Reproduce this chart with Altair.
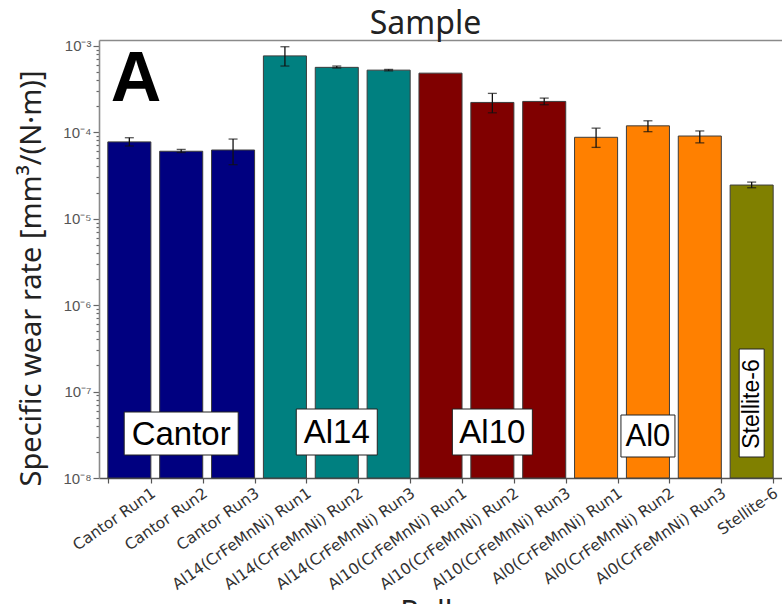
import altair as alt
import pandas as pd

# Specific wear rate per sample run (mm^3 / (N*m)), with error-bar bounds
samples = [
    "Cantor Run1", "Cantor Run2", "Cantor Run3",
    "Al14(CrFeMnNi) Run1", "Al14(CrFeMnNi) Run2", "Al14(CrFeMnNi) Run3",
    "Al10(CrFeMnNi) Run1", "Al10(CrFeMnNi) Run2", "Al10(CrFeMnNi) Run3",
    "Al0(CrFeMnNi) Run1", "Al0(CrFeMnNi) Run2", "Al0(CrFeMnNi) Run3",
    "Stellite-6",
]
groups = ["Cantor"] * 3 + ["Al14"] * 3 + ["Al10"] * 3 + ["Al0"] * 3 + ["Stellite-6"]
wear_rate = [7.7e-5, 6.0e-5, 6.2e-5,
             7.6e-4, 5.6e-4, 5.2e-4,
             4.8e-4, 2.2e-4, 2.26e-4,
             8.7e-5, 1.18e-4, 9.0e-5,
             2.44e-5]
err_low = [6.9e-5, 5.8e-5, 4.2e-5,
           5.8e-4, 5.5e-4, 5.1e-4,
           None, 1.67e-4, 2.07e-4,
           6.65e-5, 1.01e-4, 7.5e-5,
           2.27e-5]
err_high = [8.6e-5, 6.3e-5, 8.3e-5,
            9.7e-4, 5.8e-4, 5.3e-4,
            None, 2.8e-4, 2.47e-4,
            1.11e-4, 1.35e-4, 1.03e-4,
            2.64e-5]

group_names = ["Cantor", "Al14", "Al10", "Al0", "Stellite-6"]
group_colors = ["#000080", "#008080", "#800000", "#ff8000", "#808000"]

y_ticks = [1e-8, 1e-7, 1e-6, 1e-5, 1e-4, 1e-3]
y_tick_labels = ["10⁻⁸", "10⁻⁷", "10⁻⁶", "10⁻⁵", "10⁻⁴", "10⁻³"]
y_title = "Specific wear rate [mm³/(N·m)]"

df = pd.DataFrame({
    "sample": samples, "group": groups, "rate": wear_rate,
    "lo": err_low, "hi": err_high,
})

W, H = 683, 438
FONT = "Liberation Sans"
TICK_FONT = "DejaVu Sans"
TITLE_FONT = "Noto Sans"

# minor log ticks between the labelled decades
minor_ticks = [m * d for d in y_ticks[:-1] for m in range(2, 10)]

label_expr = " : ".join(
    f"abs(datum.value / {v} - 1) < 1e-6 ? '{t}'" for v, t in zip(y_ticks, y_tick_labels)
) + " : ''"
is_major = "abs(log(datum.value) / LN10 - round(log(datum.value) / LN10)) < 0.01"

x_scale = alt.Scale(domain=samples, paddingInner=0.17, paddingOuter=0.17)
y_scale = alt.Scale(type="log", domain=[1e-8, 1.16e-3], nice=False, clamp=True)
color_scale = alt.Scale(domain=group_names, range=group_colors)

left_axis = alt.Axis(
    values=y_ticks + minor_ticks, labelExpr=label_expr, labelOverlap=False,
    labelFont=FONT, labelFontSize=15, labelColor="#555", labelPadding=2,
    tickColor="#666", tickWidth=1.2,
    tickSize={"condition": {"test": is_major, "value": 6}, "value": 3},
    domainColor="#8a8a8a", domainWidth=1.6, grid=False,
    title=y_title, titleFont=TITLE_FONT, titleFontSize=29, titleFontWeight="normal",
    titleColor="#222", titleAngle=270, titleX=-68, titleY=238,
    titleAlign="center", titleBaseline="middle",
)

bottom_axis = alt.Axis(
    orient="bottom", labelAngle=325, labelAlign="right", labelBaseline="middle",
    labelOffset=24, labelPadding=8, tickBand="extent", labelOverlap=False,
    labelBound=False, labelFont=TICK_FONT, labelFontSize=15.5, labelColor="#333",
    tickColor="#555", tickSize=5, tickWidth=1.2,
    domainColor="#555", domainWidth=1.4,
    title="Roller", titleFont=TITLE_FONT, titleFontSize=30, titleFontWeight="normal",
    titleColor="#222", titleY=143, titleBaseline="alphabetic",
)

top_axis = alt.Axis(
    orient="top", labels=False, ticks=False, domainColor="#8a8a8a", domainWidth=1.6,
    title="Sample", titleFont=TITLE_FONT, titleFontSize=32, titleFontWeight="normal",
    titleColor="#222", titleX=326, titleY=-7, titleBaseline="alphabetic",
)


def y_enc(field):
    return alt.Y(f"{field}:Q", scale=y_scale, axis=left_axis, title=y_title)


base = alt.Chart(df)

bars = base.mark_bar(stroke="#3c3c3c", strokeWidth=1).encode(
    x=alt.X("sample:N", sort=samples, scale=x_scale, axis=bottom_axis),
    y=y_enc("rate"),
    color=alt.Color("group:N", scale=color_scale, legend=None),
)

errors = base.transform_filter("datum.lo != null")

err_rule = errors.mark_rule(color="#111", strokeWidth=1.3).encode(
    x=alt.X("sample:N", sort=samples, scale=x_scale, axis=top_axis),
    y=y_enc("lo"),
    y2="hi:Q",
)
cap_hi = errors.mark_tick(color="#111", size=9, thickness=1.3).encode(
    x=alt.X("sample:N", sort=samples, scale=x_scale, axis=None),
    y=y_enc("hi"),
)
cap_lo = errors.mark_tick(color="#111", size=9, thickness=1.3).encode(
    x=alt.X("sample:N", sort=samples, scale=x_scale, axis=None),
    y=y_enc("lo"),
)

# Boxed group labels, anchored on the middle bar of each group
group_labels = [
    # label, anchor sample, box width, box top, box bottom, font size, angle
    ("Cantor", "Cantor Run2", 114, 372, 415, 33, 0),
    ("Al14", "Al14(CrFeMnNi) Run2", 81, 369, 415, 33, 0),
    ("Al10", "Al10(CrFeMnNi) Run2", 80, 369, 415, 33, 0),
    ("Al0", "Al0(CrFeMnNi) Run2", 54, 375, 417, 31, 0),
    ("Stellite-6", "Stellite-6", 25, 309, 417, 23, 270),
]

layers = [bars, err_rule, cap_hi, cap_lo]
for label, anchor, bw, top, bottom, fs, ang in group_labels:
    ann = alt.Chart(pd.DataFrame({"sample": [anchor], "label": [label]}))
    box = ann.mark_bar(fill="white", stroke="#222", strokeWidth=1, width=bw).encode(
        x=alt.X("sample:N", sort=samples, scale=x_scale, axis=None),
        y=alt.value(top), y2=alt.value(bottom),
    )
    txt = ann.mark_text(
        font=FONT, fontSize=fs, color="#000", angle=ang,
        align="center", baseline="middle",
    ).encode(
        x=alt.X("sample:N", sort=samples, scale=x_scale, axis=None),
        y=alt.value((top + bottom) / 2 + 1),
        text="label:N",
    )
    layers += [box, txt]

panel = alt.Chart(pd.DataFrame({"tag": ["A"]})).mark_text(
    font=FONT, fontSize=70, fontWeight="bold", color="#000",
    align="center", baseline="alphabetic",
).encode(x=alt.value(37), y=alt.value(61), text="tag:N")
layers.append(panel)

chart = alt.layer(*layers).resolve_axis(x="independent").properties(
    width=W, height=H,
    autosize=alt.AutoSizeParams(type="none"),
    padding={"left": 99, "top": 40, "right": 0, "bottom": 126},
).configure_view(stroke=None)

chart.save("out.html", embed_options={"renderer": "svg", "actions": False})
